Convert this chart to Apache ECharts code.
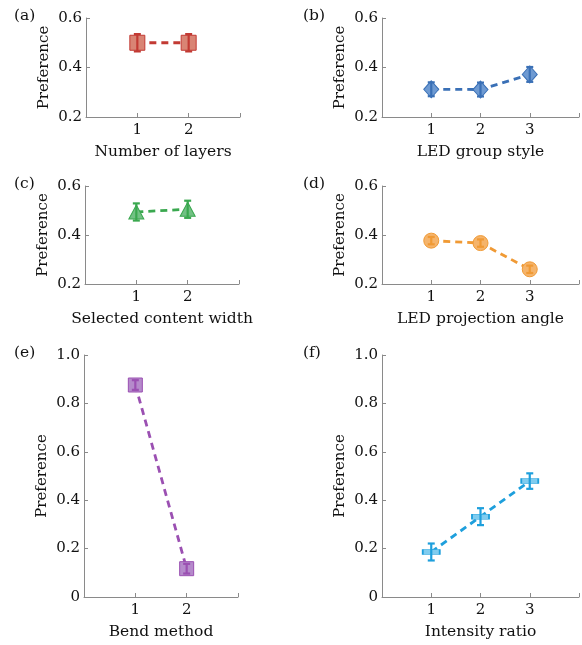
<!DOCTYPE html>
<html><head><meta charset="utf-8">
<script src="https://cdn.jsdelivr.net/npm/echarts@6/dist/echarts.min.js"></script>
<style>html,body{margin:0;padding:0;background:#fff}#c{width:582px;height:645px}</style>
</head><body><div id="c"></div>
<script>
// ---- data ----
const xA = [1, 2];       const prefA = [0.500, 0.500];        const errA = [0.035, 0.035];
const xB = [1, 2, 3];    const prefB = [0.312, 0.311, 0.372]; const errB = [0.028, 0.028, 0.030];
const xC = [1, 2];       const prefC = [0.494, 0.505];        const errC = [0.035, 0.035];
const xD = [1, 2, 3];    const prefD = [0.377, 0.367, 0.260]; const errD = [0.015, 0.015, 0.015];
const xE = [1, 2];       const prefE = [0.876, 0.117];        const errE = [0.020, 0.020];
const xF = [1, 2, 3];    const prefF = [0.186, 0.332, 0.479]; const errF = [0.035, 0.035, 0.032];
const xNames = ['Number of layers', 'LED group style', 'Selected content width',
                'LED projection angle', 'Bend method', 'Intensity ratio'];
const panelTags = ['(a)', '(b)', '(c)', '(d)', '(e)', '(f)'];
const yTicksSmall = [0.2, 0.4, 0.6];
const yTicksLarge = [0, 0.2, 0.4, 0.6, 0.8, 1.0];

const FONT = 'DejaVu Serif';
const panels = [
  {x: xA, y: prefA, e: errA, xmax: 3, yt: yTicksSmall, grid: {left: 86, top: 18, width: 154, height: 99},
   sym: 'rect', size: 15, line: '#c23a33', fill: '#d98474'},
  {x: xB, y: prefB, e: errB, xmax: 4, yt: yTicksSmall, grid: {left: 382, top: 18, width: 208, height: 99},
   sym: 'diamond', size: [15, 17], line: '#3a70b6', fill: '#6e9ad2'},
  {x: xC, y: prefC, e: errC, xmax: 3, yt: yTicksSmall, grid: {left: 85, top: 186, width: 154, height: 98},
   sym: 'triangle', size: [15, 14], line: '#3aa84f', fill: '#72c184'},
  {x: xD, y: prefD, e: errD, xmax: 4, yt: yTicksSmall, grid: {left: 382, top: 186, width: 208, height: 98},
   sym: 'circle', size: 15, line: '#f09a35', fill: '#f5b46b'},
  {x: xE, y: prefE, e: errE, xmax: 3, yt: yTicksLarge, grid: {left: 84, top: 355, width: 154, height: 242},
   sym: 'rect', size: 14, line: '#9b50b2', fill: '#b58acb'},
  {x: xF, y: prefF, e: errF, xmax: 4, yt: yTicksLarge, grid: {left: 382, top: 355, width: 208, height: 242},
   sym: 'rect', size: [17, 5], line: '#1e9fdc', fill: '#80ccef'}
];

const grids = [], xAxes = [], yAxes = [], series = [], graphics = [];
const axisColor = '#8a8a8a';
panels.forEach((p, i) => {
  grids.push(p.grid);
  const labelSet = p.x.map(String);
  xAxes.push({
    type: 'value', gridIndex: i, min: 0, max: p.xmax, interval: 1,
    name: xNames[i], nameLocation: 'middle', nameGap: 27,
    nameTextStyle: {fontFamily: FONT, fontSize: 15.5, color: '#111'},
    axisLine: {lineStyle: {color: axisColor, width: 1}},
    axisTick: {inside: true, length: 4, lineStyle: {color: axisColor}},
    splitLine: {show: false},
    axisLabel: {fontFamily: FONT, fontSize: 15, color: '#111', margin: 6,
      formatter: v => labelSet.indexOf(String(v)) >= 0 ? String(v) : ''}
  });
  yAxes.push({
    type: 'value', gridIndex: i, min: p.yt[0], max: p.yt[p.yt.length - 1], interval: 0.2,
    name: 'Preference', nameLocation: 'middle', nameGap: 34, nameRotate: 90,
    nameTextStyle: {fontFamily: FONT, fontSize: 15, color: '#111'},
    axisLine: {show: true, lineStyle: {color: axisColor, width: 1}},
    axisTick: {show: true, inside: true, length: 4, lineStyle: {color: axisColor}},
    splitLine: {show: false},
    axisLabel: {fontFamily: FONT, fontSize: 15, color: '#111', margin: 4,
      formatter: v => Math.abs(v) < 1e-9 ? '0' : v.toFixed(1)}
  });
  const pts = p.x.map((xv, k) => [xv, p.y[k], p.e[k]]);
  series.push({
    type: 'line', xAxisIndex: i, yAxisIndex: i, data: pts.map(d => [d[0], d[1]]),
    symbol: p.sym, symbolSize: p.size, z: 2,
    lineStyle: {color: p.line, width: 2.8, type: [7, 5]},
    itemStyle: {color: p.fill, borderColor: p.line, borderWidth: 1, opacity: 1},
    emphasis: {disabled: true}, animation: false
  });
  series.push({
    type: 'custom', xAxisIndex: i, yAxisIndex: i, data: pts, z: 3,
    encode: {x: 0, y: 1},
    renderItem: (params, api) => {
      const xv = api.value(0), yv = api.value(1), ev = api.value(2);
      const t = api.coord([xv, yv + ev]), b = api.coord([xv, yv - ev]);
      const st = {stroke: p.line, lineWidth: 2.2};
      return {type: 'group', children: [
        {type: 'line', shape: {x1: t[0], y1: t[1], x2: b[0], y2: b[1]}, style: st},
        {type: 'line', shape: {x1: t[0] - 3.5, y1: t[1], x2: t[0] + 3.5, y2: t[1]}, style: st},
        {type: 'line', shape: {x1: b[0] - 3.5, y1: b[1], x2: b[0] + 3.5, y2: b[1]}, style: st}
      ]};
    },
    animation: false
  });
  graphics.push({
    type: 'text', left: (i % 2 === 0) ? 14 : 303,
    top: p.grid.top - 10,
    style: {text: panelTags[i], font: '15.5px "DejaVu Serif"', fill: '#111'}
  });
});

const chart = echarts.init(document.getElementById('c'), null, {renderer: 'canvas'});
chart.setOption({
  animation: false,
  grid: grids, xAxis: xAxes, yAxis: yAxes, series: series, graphic: graphics
});
</script></body></html>
